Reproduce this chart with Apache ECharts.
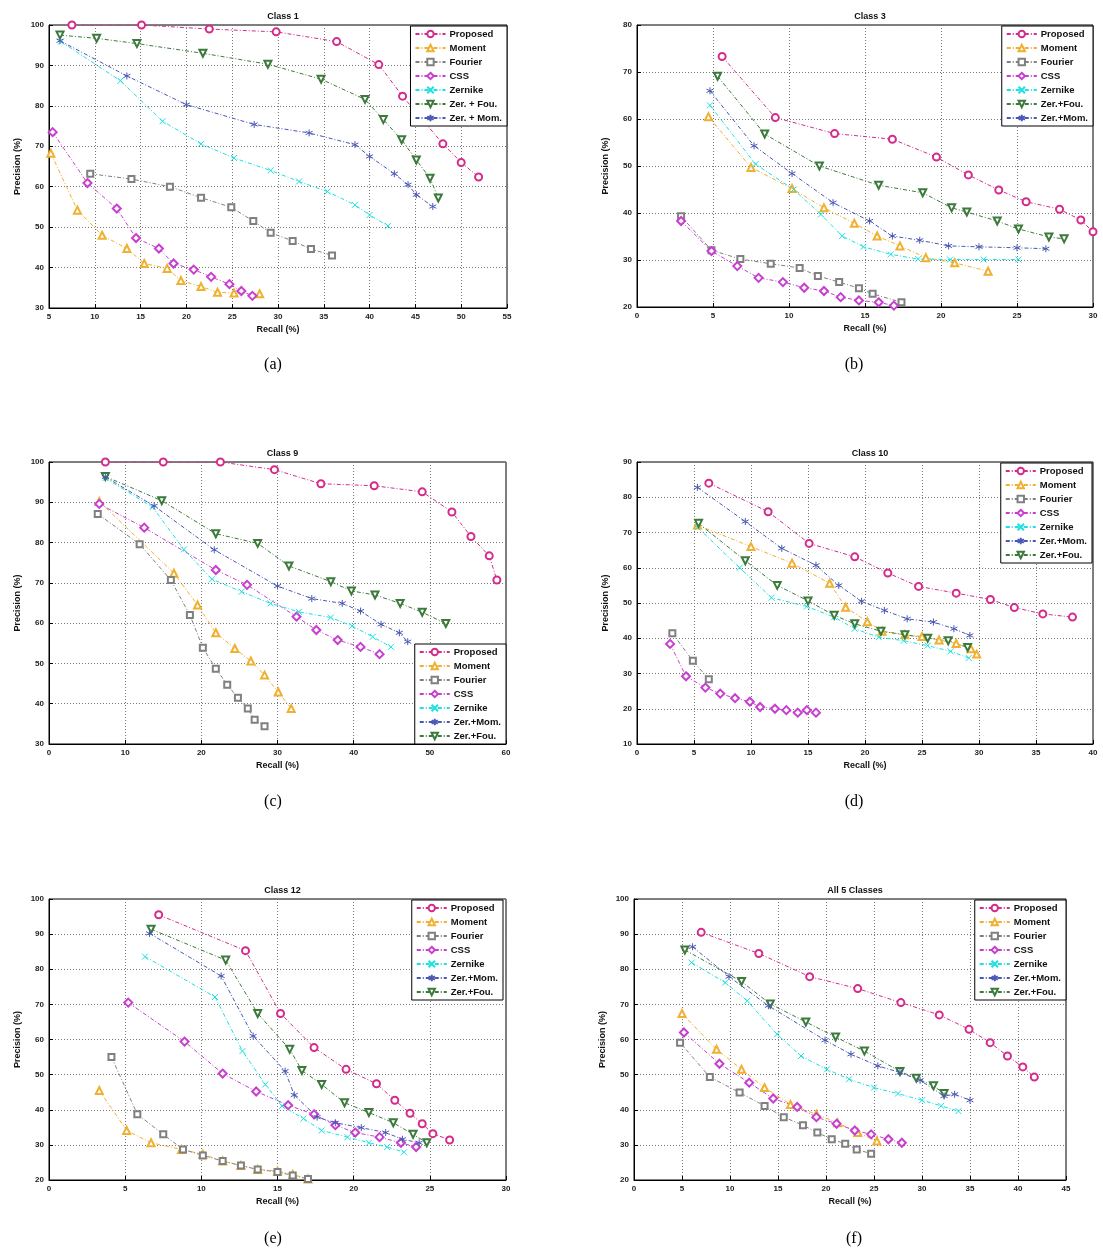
<!DOCTYPE html>
<html>
<head>
<meta charset="utf-8">
<script src="https://cdn.jsdelivr.net/npm/echarts@6/dist/echarts.min.js"></script>
<style>
  html, body { margin: 0; padding: 0; background: #fff; }
  #chart { width: 1103px; height: 1251px; }
</style>
</head>
<body>
<div id="chart"></div>
<script>
// 数据: 每个子图 7 条 P-R 曲线 [recall, precision]

// (a) Class 1
const a_proposed = [[7.5,100],[15.1,100],[22.5,99],[29.8,98.3],[36.4,95.9],[41,90.2],[43.6,82.4],[48,70.6],[50,66],[51.9,62.4]];
const a_moment = [[5.2,68.3],[8.1,54.2],[10.8,48],[13.5,44.7],[15.4,41],[17.9,39.8],[19.4,36.8],[21.6,35.3],[23.4,33.9],[25.2,33.7],[28,33.5]];
const a_fourier = [[9.5,63.2],[14,61.9],[18.2,60],[21.6,57.3],[24.9,54.9],[27.3,51.5],[29.2,48.6],[31.6,46.6],[33.6,44.6],[35.9,43]];
const a_css = [[5.4,73.5],[9.2,60.9],[12.4,54.6],[14.5,47.3],[17,44.7],[18.6,41],[20.8,39.5],[22.7,37.7],[24.7,35.9],[26,34.2],[27.2,33]];
const a_zernike = [[6.3,95.9],[12.8,86.2],[17.4,76.2],[21.6,70.6],[25.2,67.1],[29.2,64],[32.3,61.3],[35.4,58.8],[38.4,55.5],[40,53],[42,50.3]];
const a_zerfou = [[6.2,97.5],[10.2,96.7],[14.6,95.4],[21.8,93],[28.9,90.3],[34.7,86.6],[39.5,81.6],[41.5,76.6],[43.5,71.6],[45.1,66.6],[46.6,62.1],[47.5,57.2]];
const a_zermom = [[6.2,96.1],[13.5,87.4],[20,80.3],[27.4,75.4],[33.4,73.3],[38.4,70.4],[40,67.5],[42.7,63.2],[44.2,60.5],[45.1,58],[46.9,55.1]];

// (b) Class 3
const b_proposed = [[5.6,73.3],[9.1,60.3],[13,56.9],[16.8,55.7],[19.7,51.9],[21.8,48.1],[23.8,44.9],[25.6,42.4],[27.8,40.8],[29.2,38.5],[30,36]];
const b_moment = [[4.7,60.5],[7.5,49.7],[10.2,45.2],[12.3,41.1],[14.3,37.8],[15.8,35.1],[17.3,33],[19,30.5],[20.9,29.4],[23.1,27.6]];
const b_fourier = [[2.9,39.3],[4.9,32.1],[6.8,30.2],[8.8,29.2],[10.7,28.3],[11.9,26.6],[13.3,25.3],[14.6,24],[15.5,22.8],[17.4,21]];
const b_css = [[2.9,38.3],[4.9,31.9],[6.6,28.7],[8,26.2],[9.6,25.3],[11,24.1],[12.3,23.4],[13.4,22.1],[14.6,21.4],[15.9,21],[16.9,20.3]];
const b_zernike = [[4.8,62.9],[7.8,50.4],[10.3,45],[12.1,39.7],[13.5,35.1],[14.9,32.8],[16.7,31.2],[18.5,30.2],[20.6,30.1],[22.8,30.1],[25.1,30.1]];
const b_zerfou = [[5.3,69.1],[8.4,56.8],[12,50],[15.9,45.9],[18.8,44.3],[20.7,41.1],[21.7,40.2],[23.7,38.3],[25.1,36.6],[27.1,34.9],[28.1,34.5]];
const b_zermom = [[4.8,66],[7.7,54.3],[10.2,48.4],[12.9,42.2],[15.3,38.3],[16.8,35.1],[18.6,34.2],[20.5,33],[22.5,32.8],[25,32.6],[26.9,32.4]];

// (c) Class 9
const c_proposed = [[7.4,100],[15,100],[22.5,100],[29.6,98.1],[35.7,94.6],[42.7,94.1],[49,92.6],[52.9,87.6],[55.4,81.5],[57.8,76.7],[58.8,70.7]];
const c_moment = [[6.6,90.2],[16.4,72.4],[19.5,64.5],[21.9,57.6],[24.4,53.7],[26.5,50.6],[28.3,47.1],[30.1,42.9],[31.8,38.8]];
const c_fourier = [[6.4,87.1],[11.9,79.6],[16,70.7],[18.5,62],[20.2,53.9],[21.9,48.7],[23.4,44.7],[24.8,41.5],[26.1,38.8],[27,36],[28.3,34.4]];
const c_css = [[6.6,89.6],[12.5,83.7],[21.9,73.2],[26,69.5],[32.5,61.6],[35.1,58.3],[37.9,55.8],[40.9,54.1],[43.4,52.3]];
const c_zernike = [[7.4,96],[13.6,88.8],[17.7,78.3],[21.4,70.9],[25.3,67.8],[29.1,64.9],[32.8,62.8],[37,61.4],[39.8,59.3],[42.5,56.6],[44.9,54.1]];
const c_zermom = [[7.4,96.3],[13.8,89.1],[21.7,78.2],[30,69.2],[34.5,66.1],[38.5,64.9],[40.9,63],[43.6,59.7],[46,57.6],[47.1,55.4]];
const c_zerfou = [[7.4,96.4],[14.8,90.4],[21.9,82.2],[27.4,79.8],[31.5,74.2],[37,70.3],[39.7,68],[42.8,67],[46.1,64.9],[49,62.7],[52.1,59.9]];

// (d) Class 10
const d_proposed = [[6.3,84],[11.5,75.9],[15.1,66.9],[19.1,63.1],[22,58.5],[24.7,54.7],[28,52.8],[31,51],[33.1,48.7],[35.6,46.9],[38.2,46]];
const d_moment = [[5.3,72.1],[10,66],[13.6,61.3],[16.9,55.6],[18.3,48.8],[20.2,44.7],[21.5,42],[23.5,41],[25,40.5],[26.5,39.5],[28,38.5],[29.3,37],[29.8,35.5]];
const d_fourier = [[3.1,41.4],[4.9,33.6],[6.3,28.4]];
const d_css = [[2.9,38.4],[4.3,29.2],[6,26],[7.3,24.3],[8.6,23],[9.9,22],[10.8,20.5],[12.1,20],[13.1,19.6],[14.1,18.9],[14.9,19.6],[15.7,18.9]];
const d_zernike = [[5.3,71.5],[9,60],[11.8,51.5],[14.9,49],[17.3,46],[19.1,42.7],[21.2,40.3],[23.4,39.3],[25.5,37.9],[27.5,36.3],[29.1,34.4]];
const d_zermom = [[5.3,82.8],[9.5,73.1],[12.7,65.5],[15.7,60.7],[17.7,55],[19.7,50.5],[21.7,47.9],[23.7,45.5],[26,44.6],[27.8,42.7],[29.2,40.8]];
const d_zerfou = [[5.4,72.6],[9.5,62],[12.3,55],[15,50.6],[17.3,46.5],[19.1,44.1],[21.4,42],[23.5,41],[25.5,40],[27.3,39.3],[29,37.4]];

// (e) Class 12
const e_proposed = [[7.2,95.5],[12.9,85.3],[15.2,67.4],[17.4,57.7],[19.5,51.5],[21.5,47.4],[22.7,42.7],[23.7,39],[24.5,36],[25.2,33.2],[26.3,31.4]];
const e_moment = [[3.3,45.5],[5.1,34.1],[6.7,30.6],[8.7,28.7],[10.1,27.3],[11.4,25.4],[12.6,24.1],[13.7,23],[15,22.5],[16,21.6],[17,20.3]];
const e_fourier = [[4.1,55],[5.8,38.7],[7.5,33],[8.8,28.7],[10.1,27],[11.4,25.4],[12.6,24.1],[13.7,23],[15,22.3],[16,21.3],[17,20.3]];
const e_css = [[5.2,70.5],[8.9,59.4],[11.4,50.3],[13.6,45.2],[15.7,41.3],[17.4,38.7],[18.8,35.6],[20.1,33.5],[21.7,32.2],[23.1,30.6],[24.1,29.4]];
const e_zernike = [[6.3,83.6],[10.9,72.1],[12.7,56.7],[14.2,47.2],[15.3,41.1],[16.7,37.5],[17.9,34.1],[19.6,32.2],[21,30.6],[22.2,29.4],[23.3,27.9]];
const e_zermom = [[6.6,90.2],[11.3,78.1],[13.4,61],[15.5,51],[16.1,44.2],[17.6,37.9],[18.8,36.3],[20.5,34.9],[22.1,33.5],[23.2,31.6],[24.3,30.6]];
const e_zerfou = [[6.7,91.4],[11.6,82.6],[13.7,67.4],[15.8,57.2],[16.6,51.2],[17.9,47.2],[19.4,42],[21,39.2],[22.6,36.3],[23.9,33],[24.8,30.6]];

// (f) All 5 Classes
const f_proposed = [[7,90.5],[13,84.5],[18.3,77.9],[23.3,74.5],[27.8,70.5],[31.8,67],[34.9,62.9],[37.1,59.1],[38.9,55.3],[40.5,52.2],[41.7,49.3]];
const f_moment = [[5,67.4],[8.6,57.2],[11.2,51.5],[13.6,46.3],[16.3,41.5],[19,38.7],[21.2,36.3],[23.3,33.5],[25.3,31.1]];
const f_fourier = [[4.8,59.1],[7.9,49.3],[11,44.9],[13.6,41.1],[15.6,37.9],[17.6,35.6],[19.1,33.5],[20.6,31.6],[22,30.3],[23.2,28.7],[24.7,27.5]];
const f_css = [[5.2,62],[8.9,53.1],[12,47.7],[14.5,43.2],[17,40.8],[19,37.9],[21.1,36],[23,34.1],[24.7,33],[26.5,31.6],[27.9,30.6]];
const f_zernike = [[6,81.9],[9.5,76.2],[11.8,71],[14.9,61.5],[17.4,55.3],[20.1,51.5],[22.4,48.7],[25,46.3],[27.5,44.6],[30,42.7],[32,41.1],[33.8,39.6]];
const f_zermom = [[6.1,86.4],[9.9,77.9],[14,69.6],[19.9,59.8],[22.6,55.8],[25.4,52.5],[27.7,50.6],[29.8,48.4],[32.3,43.9],[33.4,44.4],[35,42.7]];
const f_zerfou = [[5.3,85.5],[11.2,76.5],[14.2,70.1],[17.9,65],[21,60.7],[24,56.7],[27.7,50.9],[29.4,49],[31.2,46.8],[32.3,44.6]];

// 图例名称
const namesA = ["Proposed", "Moment", "Fourier", "CSS", "Zernike", "Zer. + Fou.", "Zer. + Mom."];
const namesB = ["Proposed", "Moment", "Fourier", "CSS", "Zernike", "Zer.+Fou.", "Zer.+Mom."];
const namesC = ["Proposed", "Moment", "Fourier", "CSS", "Zernike", "Zer.+Mom.", "Zer.+Fou."];

// 各方法样式 (顺序: Proposed, Moment, Fourier, CSS, Zernike, Zer+Fou, Zer+Mom)
const styles = [
  { color: "#d42c8c", symbol: "emptyCircle", size: 7 },
  { color: "#f0b030", symbol: "emptyTriangle", size: 7 },
  { color: "#808080", symbol: "emptyRect", size: 6 },
  { color: "#c83fd0", symbol: "emptyDiamond", size: 8 },
  { color: "#1ee0e0", symbol: "path://M0,0L10,10M10,0L0,10", size: 6 },
  { color: "#3c7a3c", symbol: "emptyTriangle", size: 7, rotate: 180 },
  { color: "#4a58b4", symbol: "path://M5,0L5,10M0.7,2.5L9.3,7.5M0.7,7.5L9.3,2.5", size: 7 },
];

const panels = [
  { title: "Class 1", cap: "(a)", grid: { left: 49, top: 25, width: 458, height: 283 }, x: [5, 55, 5], y: [30, 100, 10],
    data: [a_proposed, a_moment, a_fourier, a_css, a_zernike, a_zerfou, a_zermom],
    names: ["Proposed", "Moment", "Fourier", "CSS", "Zernike", "Zer. + Fou.", "Zer. + Mom."], legend: namesA, legendPos: { right: 596, top: 26 } },
  { title: "Class 3", cap: "(b)", grid: { left: 637, top: 25, width: 456, height: 282 }, x: [0, 30, 5], y: [20, 80, 10],
    data: [b_proposed, b_moment, b_fourier, b_css, b_zernike, b_zerfou, b_zermom],
    names: ["Proposed", "Moment", "Fourier", "CSS", "Zernike", "Zer.+Fou.", "Zer.+Mom."], legend: namesB, legendPos: { right: 10, top: 26 } },
  { title: "Class 9", cap: "(c)", grid: { left: 49, top: 462, width: 457, height: 282 }, x: [0, 60, 10], y: [30, 100, 10],
    data: [c_proposed, c_moment, c_fourier, c_css, c_zernike, c_zerfou, c_zermom],
    names: ["Proposed", "Moment", "Fourier", "CSS", "Zernike", "Zer.+Fou.", "Zer.+Mom."], legend: namesC, legendPos: { right: 597, bottom: 507 } },
  { title: "Class 10", cap: "(d)", grid: { left: 637, top: 462, width: 456, height: 282 }, x: [0, 40, 5], y: [10, 90, 10],
    data: [d_proposed, d_moment, d_fourier, d_css, d_zernike, d_zerfou, d_zermom],
    names: ["Proposed", "Moment", "Fourier", "CSS", "Zernike", "Zer.+Fou.", "Zer.+Mom."], legend: namesC, legendPos: { right: 11, top: 463 } },
  { title: "Class 12", cap: "(e)", grid: { left: 49, top: 899, width: 457, height: 281 }, x: [0, 30, 5], y: [20, 100, 10],
    data: [e_proposed, e_moment, e_fourier, e_css, e_zernike, e_zerfou, e_zermom],
    names: ["Proposed", "Moment", "Fourier", "CSS", "Zernike", "Zer.+Fou.", "Zer.+Mom."], legend: namesC, legendPos: { right: 600, top: 900 } },
  { title: "All 5 Classes", cap: "(f)", grid: { left: 634, top: 899, width: 432, height: 281 }, x: [0, 45, 5], y: [20, 100, 10],
    data: [f_proposed, f_moment, f_fourier, f_css, f_zernike, f_zerfou, f_zermom],
    names: ["Proposed", "Moment", "Fourier", "CSS", "Zernike", "Zer.+Fou.", "Zer.+Mom."], legend: namesC, legendPos: { right: 37, top: 900 } },
];

const FONT = "Arial, 'Liberation Sans', sans-serif";
const grids = [], xAxes = [], yAxes = [], series = [], legends = [], titles = [];

panels.forEach((p, i) => {
  grids.push({ ...p.grid, containLabel: false, show: true, borderColor: "#000", borderWidth: 1, backgroundColor: "#fff" });

  const axisCommon = {
    gridIndex: i,
    type: "value",
    nameLocation: "middle",
    nameTextStyle: { fontSize: 9, fontWeight: "bold", fontFamily: FONT, color: "#111" },
    axisLine: { show: true, onZero: false, lineStyle: { color: "#000", width: 1 } },
    axisTick: { show: true, inside: true, length: 4, lineStyle: { color: "#000" } },
    axisLabel: { fontSize: 8, fontWeight: "bold", fontFamily: FONT, color: "#222", margin: 5 },
    splitLine: { show: true, lineStyle: { color: "#777", type: [1, 2], width: 1 } },
  };
  xAxes.push({ ...axisCommon, min: p.x[0], max: p.x[1], interval: p.x[2], name: "Recall (%)", nameGap: 17 });
  yAxes.push({ ...axisCommon, min: p.y[0], max: p.y[1], interval: p.y[2], name: "Precision (%)", nameGap: 27 });

  p.data.forEach((d, j) => {
    const s = styles[j];
    series.push({
      name: p.names[j],
      type: "line",
      xAxisIndex: i,
      yAxisIndex: i,
      data: d,
      symbol: s.symbol,
      symbolSize: s.size,
      symbolRotate: s.rotate || 0,
      showAllSymbol: true,
      lineStyle: { color: s.color, width: 1, type: [4, 2, 1, 2] },
      itemStyle: { color: s.color, borderColor: s.color, borderWidth: 1 },
      emphasis: { disabled: true },
      animation: false,
    });
  });

  legends.push({
    ...p.legendPos,
    orient: "vertical",
    data: p.legend,
    backgroundColor: "#fff",
    borderColor: "#000",
    borderWidth: 1,
    borderRadius: 0,
    padding: [3, 5, 3, 4],
    itemWidth: 30,
    itemHeight: 8,
    itemGap: 4,
    selectedMode: false,
    textStyle: { fontSize: 9.5, fontWeight: "bold", fontFamily: FONT, color: "#111", padding: [0, 0, 0, -1] },
  });

  const cx = p.grid.left + p.grid.width / 2;
  titles.push({ text: p.title, left: cx, top: p.grid.top - 18, textAlign: "center",
    textStyle: { fontSize: 9, fontWeight: "bold", fontFamily: FONT, color: "#111" } });
  titles.push({ text: p.cap, left: i % 2 === 0 ? 268 : 849, top: p.grid.top + 327, textAlign: "center",
    textStyle: { fontSize: 16, fontWeight: "normal", fontFamily: "'Liberation Serif', 'Times New Roman', serif", color: "#000" } });
});

const chart = echarts.init(document.getElementById("chart"), null, { renderer: "canvas" });
chart.setOption({
  backgroundColor: "#fff",
  animation: false,
  title: titles,
  legend: legends,
  grid: grids,
  xAxis: xAxes,
  yAxis: yAxes,
  series: series,
});
</script>
</body>
</html>
